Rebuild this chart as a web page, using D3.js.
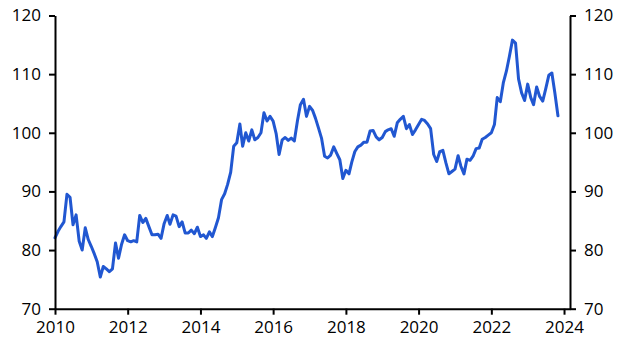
<!DOCTYPE html>
<html>
<head>
<meta charset="utf-8">
<script src="https://cdn.jsdelivr.net/npm/d3@7"></script>
<style>
  html, body { margin: 0; padding: 0; background: #fff; }
  svg { display: block; font-family: "Open Sans", "Noto Sans", sans-serif; }
</style>
</head>
<body>
<svg id="chart" width="629" height="355"></svg>
<script>
// ---- Data (monthly, first value = Jan 2010) ----
const startYear = 2010;
const startMonth = 0; // January
const values = [
  // 2010
  82.1, 83.2, 84.0, 84.8, 89.5, 89.0, 84.3, 86.0, 81.5, 80.0, 83.8, 81.8,
  // 2011
  80.6, 79.3, 78.0, 75.4, 77.2, 76.8, 76.3, 76.8, 81.2, 78.6, 81.0, 82.6,
  // 2012
  81.6, 81.4, 81.6, 81.4, 85.9, 84.7, 85.4, 84.0, 82.6, 82.6, 82.7, 82.0,
  // 2013
  84.5, 85.9, 84.4, 86.0, 85.8, 84.0, 84.8, 82.9, 82.9, 83.4, 82.8, 83.9,
  // 2014
  82.3, 82.6, 82.0, 83.1, 82.3, 83.9, 85.5, 88.6, 89.6, 91.2, 93.3, 97.7,
  // 2015
  98.3, 101.5, 97.7, 100.0, 98.6, 100.5, 98.8, 99.2, 100.0, 103.4, 102.0, 102.8,
  // 2016
  102.0, 99.8, 96.3, 98.8, 99.2, 98.7, 99.1, 98.6, 102.0, 104.8, 105.7, 102.8,
  // 2017
  104.5, 103.8, 102.5, 100.8, 99.1, 96.0, 95.7, 96.2, 97.6, 96.5, 95.4, 92.2,
  // 2018
  93.6, 93.0, 95.0, 96.8, 97.6, 97.9, 98.4, 98.4, 100.3, 100.4, 99.3, 98.8,
  // 2019
  99.2, 100.2, 100.5, 100.7, 99.4, 101.7, 102.3, 102.8, 100.7, 101.4, 99.7, 100.5,
  // 2020
  101.4, 102.3, 102.1, 101.5, 100.7, 96.3, 95.1, 96.8, 97.0, 94.9, 93.0, 93.4,
  // 2021
  93.8, 96.1, 94.3, 93.0, 95.5, 95.3, 96.0, 97.3, 97.4, 98.9, 99.2, 99.6,
  // 2022
  100.0, 101.4, 106.0, 105.3, 108.5, 110.5, 113.0, 115.8, 115.3, 109.2, 106.8, 105.5,
  // 2023
  108.3, 106.0, 104.8, 107.8, 106.2, 105.4, 107.5, 109.8, 110.2, 106.8, 102.9
];
const xTickYears = [2010, 2012, 2014, 2016, 2018, 2020, 2022, 2024];
const yTicks = [70, 80, 90, 100, 110, 120];
const xDomainStart = [2010, 0];
const xDomainEnd = [2024, 2];
const yDomain = [70, 120];

// ---- Layout ----
const W = 629, H = 355;
const margin = { left: 55, right: 59, top: 15.5, bottom: 46.3 };
const lineColor = "#2157D1";

const svg = d3.select("#chart");
const data = values.map((v, i) => ({ date: new Date(startYear, startMonth + i, 1), value: v }));

const x = d3.scaleTime()
  .domain([new Date(xDomainStart[0], xDomainStart[1], 1), new Date(xDomainEnd[0], xDomainEnd[1], 1)])
  .range([margin.left, W - margin.right]);
const y = d3.scaleLinear().domain(yDomain).range([H - margin.bottom, margin.top]);

// line
const line = d3.line().x(d => x(d.date)).y(d => y(d.value));
svg.append("path")
  .datum(data)
  .attr("fill", "none")
  .attr("stroke", lineColor)
  .attr("stroke-width", 3)
  .attr("stroke-linejoin", "round")
  .attr("stroke-linecap", "round")
  .attr("d", line);

// axes
const fontSize = 17;
function styleAxis(g) {
  g.selectAll(".domain").attr("stroke", "#000").attr("stroke-width", 2);
  g.selectAll(".tick line").attr("stroke", "#000").attr("stroke-width", 2);
  g.selectAll(".tick text").attr("fill", "#000").style("font-size", fontSize + "px")
    .style("font-family", '"Open Sans", "Noto Sans", sans-serif');
}

const xAxis = d3.axisBottom(x)
  .tickValues(xTickYears.map(yr => new Date(yr, 0, 1)))
  .tickFormat(d3.timeFormat("%Y"))
  .tickSize(6).tickSizeOuter(0).tickPadding(6);
svg.append("g").attr("transform", `translate(0,${H - margin.bottom})`).call(xAxis).call(styleAxis);

const yLeft = d3.axisLeft(y).tickValues(yTicks).tickFormat(d3.format("d"))
  .tickSize(6).tickSizeOuter(0).tickPadding(8);
svg.append("g").attr("transform", `translate(${margin.left},0)`).call(yLeft).call(styleAxis);

const yRight = d3.axisRight(y).tickValues(yTicks).tickFormat(d3.format("d"))
  .tickSize(6).tickSizeOuter(0).tickPadding(8);
svg.append("g").attr("transform", `translate(${W - margin.right},0)`).call(yRight).call(styleAxis);
</script>
</body>
</html>
